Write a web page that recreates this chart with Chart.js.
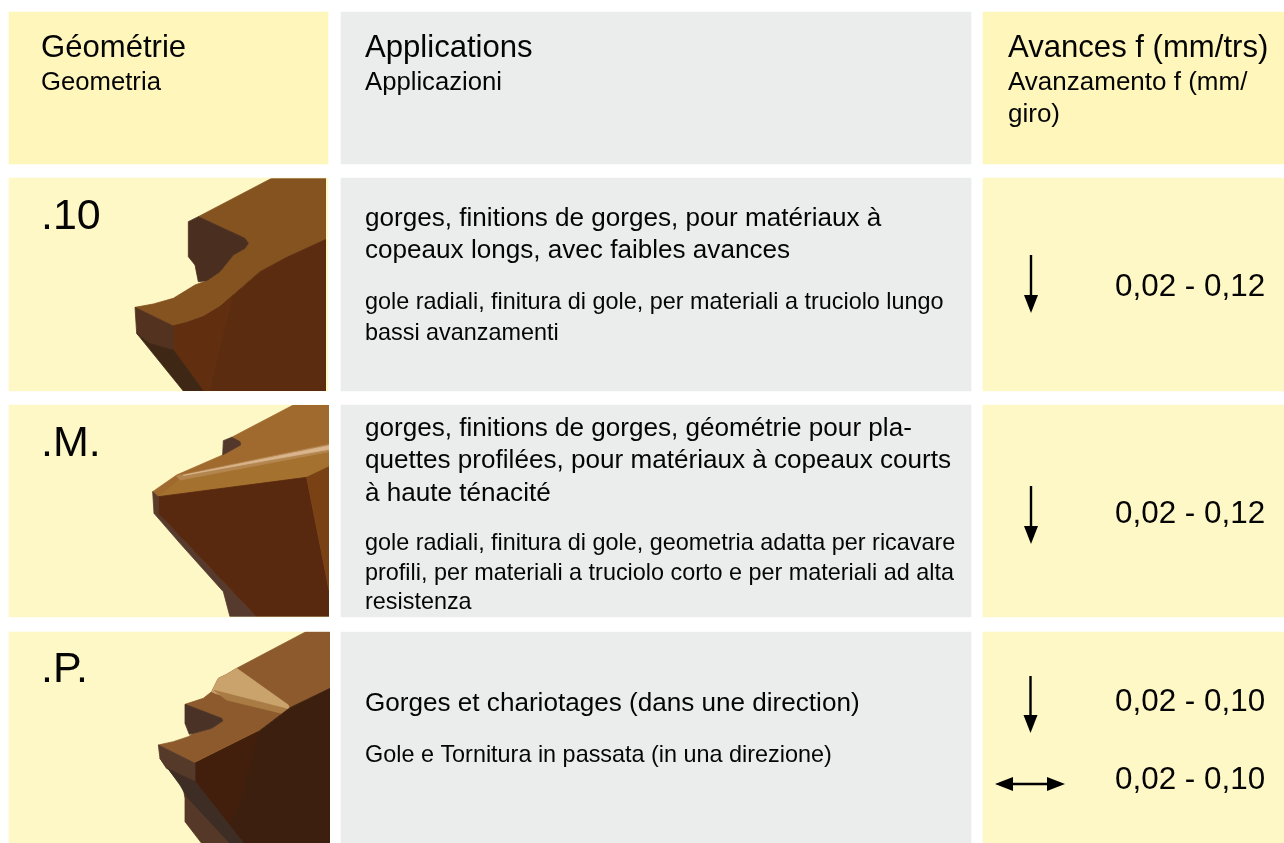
<!DOCTYPE html>
<html lang="fr"><head><meta charset="utf-8"><title>Géométrie</title>
<style>html,body{margin:0;padding:0;background:#fff;overflow:hidden}canvas{display:block}</style>
<script src="https://cdn.jsdelivr.net/npm/chart.js@4/dist/chart.umd.min.js"></script>
</head><body><canvas id="c" width="1284" height="843"></canvas>
<script>
// ---- content ----
const headerFr = ['Géométrie', 'Applications', 'Avances f (mm/trs)'];
const headerIt = [['Geometria'], ['Applicazioni'], ['Avanzamento f (mm/', 'giro)']];
const geometries = ['.10', '.M.', '.P.'];
const applicationsFr = [
  ['gorges, finitions de gorges, pour matériaux à', 'copeaux longs, avec faibles avances'],
  ['gorges, finitions de gorges, géométrie pour pla-', 'quettes profilées, pour matériaux à copeaux courts', 'à haute ténacité'],
  ['Gorges et chariotages (dans une direction)']
];
const applicationsIt = [
  ['gole radiali, finitura di gole, per materiali a truciolo lungo', 'bassi avanzamenti'],
  ['gole radiali, finitura di gole, geometria adatta per ricavare', 'profili, per materiali a truciolo corto e per materiali ad alta', 'resistenza'],
  ['Gole e Tornitura in passata (in una direzione)']
];
const feedRanges = ['0,02 - 0,12', '0,02 - 0,12', '0,02 - 0,10', '0,02 - 0,10'];

// ---- layout ----
const rowBands = [[12,164],[178,391],[405,617],[632,843]];
const columns = [
  {c:168.5,w:319,fill:['#fef6bb','#fef7c6','#fef7c6','#fef7c6']},
  {c:656,w:630,fill:['#ebedec','#ebedec','#ebedec','#ebedec']},
  {c:1133.5,w:301,fill:['#fef6bb','#fef7c6','#fef7c6','#fef7c6']}
];
const FONT = '"Liberation Sans", Arial, sans-serif';

// tool drawings: origin + polygons in 3x crop coordinates, painted in order
const tools = [
 {ox:120,oy:170,clip:[0,25,618,663],polys:[
  ['#84531f',[[455,25],[618,25],[618,208],[500,262],[420,305],[380,340],[340,375],[300,410],[250,440],[200,458],[160,468],[45,412],[100,402],[160,385],[225,345],[260,332],[300,305],[340,255],[375,235],[385,220],[375,205],[235,140]]],
  ['#4a2e1f',[[235,140],[205,155],[205,260],[225,285],[235,335],[260,332],[300,305],[340,255],[375,235],[385,220],[375,205]]],
  ['#5c2c11',[[618,208],[500,262],[420,305],[380,340],[340,375],[300,410],[250,440],[200,458],[160,468],[160,540],[210,610],[245,663],[618,663]]],
  ['#612f10',[[340,375],[300,410],[250,440],[200,458],[160,468],[160,540],[210,610],[245,663],[268,663],[310,490]]],
  ['#53331f',[[45,412],[160,468],[160,540],[90,520],[50,490]]],
  ['#3f2716',[[50,490],[90,520],[160,540],[250,663],[190,663]]]
 ]},
 {ox:130,oy:400,clip:[0,15,597,650],polys:[
  ['#a06a2f',[[490,15],[597,15],[597,200],[530,232],[85,290],[68,275],[140,225],[278,165],[332,135],[305,112]]],
  ['#53372a',[[305,112],[280,122],[278,165],[332,135],[330,125]]],
  ['#a5712f',[[150,238],[597,150],[597,200],[530,232],[85,290]]],
  ['#b4864f',[[140,228],[597,133],[597,155],[150,240]]],
  ['#d9b48c',[[160,226],[597,137],[597,148]]],
  ['#553a2d',[[72,340],[85,340],[380,650],[300,650],[280,575],[150,430]]],
  ['#58280f',[[85,290],[530,232],[597,570],[597,650],[380,650],[85,340]]],
  ['#7a4214',[[530,232],[597,200],[597,570]]],
  ['#5a3a28',[[68,275],[85,290],[85,340],[72,340]]]
 ]},
 {ox:130,oy:625,clip:[0,20,600,655],polys:[
  ['#8c5a2c',[[528,20],[600,20],[600,190],[480,248],[385,320],[195,415],[85,360],[130,350],[175,335],[190,325],[245,310],[275,290],[275,280],[165,238],[220,220],[245,200],[265,160],[290,148],[320,130]]],
  ['#c9a26c',[[320,130],[475,240],[478,250],[470,268],[255,205],[245,200],[265,160],[290,148]]],
  ['#a97c45',[[252,196],[472,252],[468,268],[290,225]]],
  ['#4a3226',[[165,238],[275,280],[278,288],[245,310],[190,325],[178,328],[165,295]]],
  ['#3c1f0e',[[600,190],[480,248],[385,320],[195,415],[195,480],[340,655],[600,655]]],
  ['#421f0c',[[385,320],[195,415],[195,490],[300,600],[330,530]]],
  ['#553a2a',[[85,360],[195,415],[195,470],[110,430],[90,400]]],
  ['#553828',[[90,400],[110,430],[195,470],[340,655],[215,655],[165,590],[165,520],[160,490]]],
  ['#3d2d25',[[115,432],[195,470],[340,655],[300,655],[170,515],[150,480]]]
 ]}
];

const arrowShafts = [
  [[1031,255],[1031,297]],
  [[1031,486],[1031,528]],
  [[1030.5,676],[1030.5,717]],
  [[1010,784],[1050,784]]
];
const arrowHeads = [
  [[1024,295],[1038,295],[1031,313]],
  [[1024,526],[1038,526],[1031,544]],
  [[1023.5,715],[1037.5,715],[1030.5,733]],
  [[995,784],[1013,777],[1013,791]],
  [[1065,784],[1047,777],[1047,791]]
];

// text items: [text, x, baseline y, px]
const texts = [];
const headX = [41,365,1008];
headerFr.forEach((t,i)=>texts.push([t,headX[i],57,31.1]));
headerIt.forEach((ls,i)=>ls.forEach((t,j)=>texts.push([t,headX[i],90+j*32,i<2?25.7:26])));
const geoBase = [229,456,682];
geometries.forEach((t,i)=>texts.push([t,41,geoBase[i],43]));
const frBase = [[226,258],[436,468,501],[711]];
const itBase = [[309,340],[550,580,609],[762]];
applicationsFr.forEach((ls,i)=>ls.forEach((t,j)=>texts.push([t,365,frBase[i][j],26.1])));
applicationsIt.forEach((ls,i)=>ls.forEach((t,j)=>texts.push([t,365,itBase[i][j],23.4])));
const feedBase = [296,523,711,789];
feedRanges.forEach((t,i)=>texts.push([t,1115,feedBase[i],31.4]));

// ---- chart ----
const barSets = columns.map(col=>({
  type:'bar', label:'panel', grouped:false, order:5,
  backgroundColor:col.fill, borderWidth:0, barThickness:col.w,
  data:rowBands.map(b=>({x:col.c,y:b}))
}));
const lineSets = arrowShafts.map(s=>({
  type:'scatter', showLine:true, order:1, borderColor:'#000', borderWidth:2.4,
  pointRadius:0, data:s.map(p=>({x:p[0],y:p[1]}))
}));

const painter = {
  id:'painter',
  afterDatasetsDraw(ch){
    const {ctx,scales:{x,y}} = ch;
    const path = (c,pts)=>{c.beginPath();pts.forEach((p,i)=>{const X=x.getPixelForValue(p[0]),Y=y.getPixelForValue(p[1]);i?c.lineTo(X,Y):c.moveTo(X,Y)});c.closePath()};
    // tools: paint all facets off-screen with sealed seams, then soften once
    tools.forEach(t=>{
      const off=document.createElement('canvas');off.width=ch.width;off.height=ch.height;
      const o=off.getContext('2d');o.lineJoin='round';o.lineWidth=0.8;
      t.polys.forEach(([col,pts])=>{
        o.fillStyle=col;o.strokeStyle=col;
        path(o,pts.map(p=>[t.ox+p[0]/3,t.oy+p[1]/3]));o.fill();o.stroke();
      });
      ctx.save();
      ctx.beginPath();
      const [a,b,c,d]=t.clip.map((v,i)=>i%2?t.oy+v/3:t.ox+v/3);
      ctx.rect(a,b,c-a,d-b);ctx.clip();
      ctx.filter='blur(0.7px)';
      ctx.drawImage(off,0,0);
      ctx.restore();
    });
    ctx.save();
    ctx.fillStyle='#000';
    arrowHeads.forEach(h=>{path(ctx,h);ctx.fill()});
    ctx.fillStyle='#050505';
    ctx.textBaseline='alphabetic';
    texts.forEach(([t,tx,ty,s])=>{ctx.font=s+'px '+FONT;ctx.fillText(t,x.getPixelForValue(tx),y.getPixelForValue(ty))});
    ctx.restore();
  }
};

new Chart(document.getElementById('c'),{
  data:{datasets:[...barSets,...lineSets]},
  plugins:[painter],
  options:{
    responsive:false, animation:false, events:[],
    layout:{padding:0},
    plugins:{legend:{display:false},tooltip:{enabled:false},title:{display:false}},
    scales:{
      x:{type:'linear',min:0,max:1284,display:false,offset:false,grid:{display:false}},
      y:{type:'linear',min:0,max:843,reverse:true,display:false,grid:{display:false}}
    }
  }
});
</script></body></html>
